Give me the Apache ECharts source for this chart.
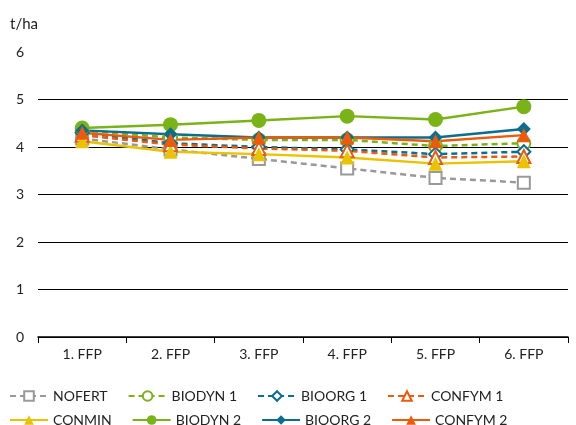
<!DOCTYPE html>
<html>
<head>
<meta charset="UTF-8">
<script src="https://cdn.jsdelivr.net/npm/echarts@6/dist/echarts.min.js"></script>
<style>html,body{margin:0;padding:0;background:#fff;}</style>
</head>
<body>
<div id="chart" style="width:576px;height:425px;"></div>
<script>
var categories = ['1. FFP', '2. FFP', '3. FFP', '4. FFP', '5. FFP', '6. FFP'];
var yTicks = [0, 1, 2, 3, 4, 5, 6];
var nofert  = [4.18, 3.95, 3.75, 3.55, 3.35, 3.25];
var biodyn1 = [4.35, 4.20, 4.15, 4.15, 4.02, 4.08];
var bioorg1 = [4.30, 4.08, 4.00, 3.95, 3.85, 3.90];
var confym1 = [4.25, 4.05, 3.97, 3.92, 3.78, 3.80];
var conmin  = [4.12, 3.90, 3.85, 3.78, 3.65, 3.70];
var biodyn2 = [4.40, 4.47, 4.56, 4.65, 4.58, 4.85];
var bioorg2 = [4.35, 4.27, 4.20, 4.20, 4.20, 4.38];
var confym2 = [4.30, 4.15, 4.20, 4.20, 4.12, 4.25];

var grey = '#999999', green = '#7ab317', blue = '#0b6e8e', orange = '#ec5a0c', yellow = '#e9c300';
var font = 'Lato';

function mk(name, data, color, symbol, size, dashed, hollow) {
    return {
        name: name, type: 'line', data: data, symbol: symbol, symbolSize: size,
        lineStyle: { color: color, width: 2.5, type: dashed ? [6, 4] : 'solid' },
        itemStyle: { color: hollow ? '#fff' : color, borderColor: color, borderWidth: hollow ? 2 : 0 },
        emphasis: { disabled: true }
    };
}

var series = [
    mk('NOFERT', nofert, grey, 'rect', 12, true, true),
    mk('BIODYN 1', biodyn1, green, 'circle', 13, true, true),
    mk('BIOORG 1', bioorg1, blue, 'diamond', 13, true, true),
    mk('CONFYM 1', confym1, orange, 'triangle', 13, true, true),
    mk('CONMIN', conmin, yellow, 'triangle', 14, false, false),
    mk('BIODYN 2', biodyn2, green, 'circle', 15, false, false),
    mk('BIOORG 2', bioorg2, blue, 'diamond', 14, false, false),
    mk('CONFYM 2', confym2, orange, 'triangle', 14, false, false)
];

function legendRow(names, top) {
    return {
        data: names, top: top, left: 4, itemGap: 20, itemWidth: 38, itemHeight: 12,
        textStyle: { fontFamily: font, fontSize: 14, color: '#222' }, selectedMode: false
    };
}

var myChart = echarts.init(document.getElementById('chart'));
myChart.setOption({
    animation: false,
    grid: { left: 38, right: 8, top: 52, bottom: 88 },
    legend: [
        legendRow(['NOFERT', 'BIODYN 1', 'BIOORG 1', 'CONFYM 1'], 384),
        legendRow(['CONMIN', 'BIODYN 2', 'BIOORG 2', 'CONFYM 2'], 408)
    ],
    xAxis: {
        type: 'category', data: categories, boundaryGap: true,
        axisLine: { lineStyle: { color: '#000', width: 1.5 } },
        axisTick: { show: true, length: 6, lineStyle: { color: '#000' } },
        axisLabel: { fontFamily: font, fontSize: 14, color: '#222', margin: 10 }
    },
    yAxis: {
        type: 'value', min: 0, max: 6, interval: 1,
        name: 't/ha', nameLocation: 'end', nameGap: 20,
        nameTextStyle: { fontFamily: font, fontSize: 15, color: '#222', align: 'right' },
        axisLine: { show: false }, axisTick: { show: false },
        axisLabel: { fontFamily: font, fontSize: 14, color: '#222', margin: 14,
            formatter: function (v) { return yTicks.indexOf(v) >= 0 ? String(v) : ''; } },
        splitLine: { lineStyle: { color: ['#000', '#000', '#000', '#000', '#000', '#000', 'rgba(0,0,0,0)'], width: 1.2 } }
    },
    series: series
});
</script>
</body>
</html>
